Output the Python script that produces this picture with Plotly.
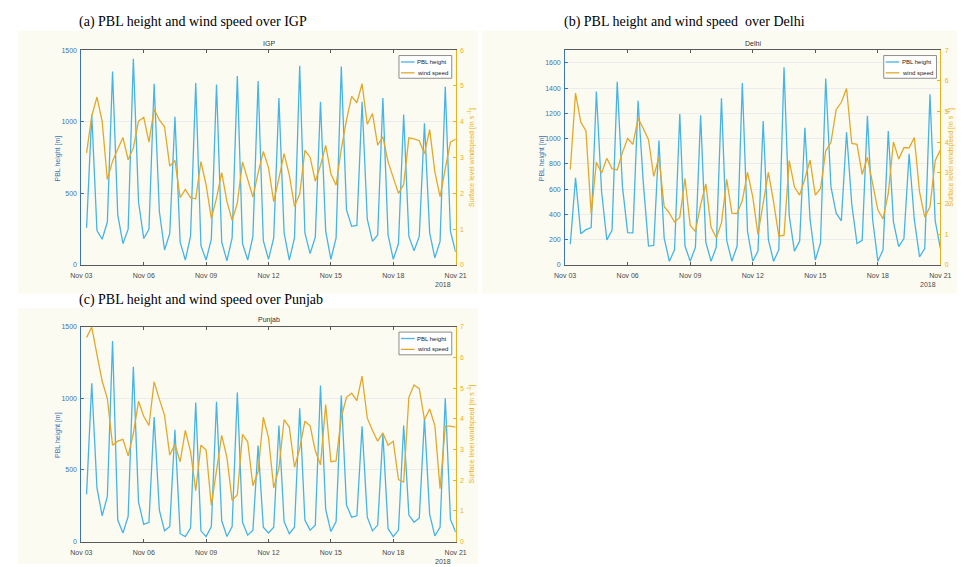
import pandas as pd
import plotly.graph_objects as go

# ---------------- data (6-hourly, 2018-11-03 06:00 .. 2018-11-21 00:00) ----------------
times = pd.date_range("2018-11-03 06:00", periods=72, freq="6h")

igp_pbl = [260, 1050, 240, 180, 300, 1350, 350, 150, 250, 1440, 440, 185,
           250, 1265, 375, 105, 220, 1035, 160, 35, 200, 1270, 135, 35,
           180, 1260, 160, 30, 190, 1320, 150, 35, 200, 1285, 170, 40,
           190, 1165, 225, 35, 190, 1390, 225, 80, 195, 1140, 236, 40,
           190, 1385, 385, 270, 277, 1140, 320, 165, 210, 1165, 210, 40,
           150, 1050, 200, 100, 200, 990, 225, 50, 165, 1245, 235, 90]
igp_wind = [3.13, 4.16, 4.69, 4.01, 2.39, 2.90, 3.24, 3.56, 2.94, 3.27, 4.02, 4.12,
            3.43, 4.35, 4.05, 3.86, 2.76, 2.92, 1.88, 2.11, 1.88, 1.85, 2.89, 2.23,
            1.30, 1.87, 2.58, 1.77, 1.25, 1.73, 2.88, 2.42, 1.90, 2.57, 3.17, 2.72,
            1.77, 2.42, 3.11, 2.51, 1.64, 1.98, 3.20, 3.01, 2.34, 2.78, 3.34, 2.55,
            2.23, 3.24, 4.05, 4.71, 4.53, 5.06, 3.93, 4.23, 3.35, 3.58, 2.88, 2.44,
            2.00, 2.25, 3.55, 3.52, 3.47, 3.11, 3.78, 2.60, 1.91, 2.69, 3.43, 3.52]

delhi_pbl = [164, 690, 247, 280, 297, 1372, 580, 199, 275, 1450, 620, 257,
             255, 1300, 650, 150, 155, 985, 215, 30, 120, 1195, 150, 30,
             140, 1185, 180, 30, 140, 1320, 195, 30, 150, 1440, 265, 30,
             110, 1140, 200, 30, 120, 1565, 390, 110, 190, 1085, 360, 40,
             175, 1475, 620, 410, 350, 1050, 480, 170, 195, 1180, 360, 30,
             120, 1060, 340, 145, 210, 880, 360, 65, 130, 1350, 350, 130]
delhi_wind = [3.11, 5.60, 4.66, 4.37, 1.66, 3.35, 3.00, 3.48, 3.14, 3.10, 3.67, 4.12,
              3.93, 4.78, 4.45, 4.08, 2.89, 3.51, 1.91, 1.69, 1.40, 1.55, 2.82, 1.29,
              1.09, 1.96, 2.64, 1.23, 0.89, 1.37, 2.79, 1.69, 1.68, 2.10, 3.02, 2.22,
              1.00, 2.06, 3.02, 2.06, 0.94, 0.97, 3.40, 2.54, 2.28, 2.81, 3.42, 2.28,
              2.49, 3.72, 3.99, 5.06, 5.30, 5.75, 3.96, 3.93, 2.95, 3.51, 2.65, 1.80,
              1.50, 2.33, 4.01, 3.45, 3.82, 3.82, 4.15, 2.38, 1.56, 1.90, 3.40, 3.75]

punjab_pbl = [330, 1105, 375, 180, 315, 1400, 150, 60, 175, 1220, 275, 120,
              135, 870, 220, 75, 105, 780, 55, 35, 95, 970, 75, 35,
              105, 975, 145, 35, 105, 1040, 135, 45, 80, 670, 100, 60,
              100, 810, 140, 55, 100, 930, 150, 80, 115, 1090, 225, 70,
              140, 1020, 255, 170, 180, 805, 170, 75, 115, 750, 90, 35,
              80, 810, 185, 135, 165, 860, 190, 40, 100, 1000, 155, 65]
punjab_wind = [6.65, 6.98, 6.09, 5.23, 4.66, 3.14, 3.27, 3.33, 2.79, 3.52, 4.57, 4.08,
               3.78, 5.20, 4.64, 4.11, 2.82, 3.17, 2.60, 3.62, 2.93, 1.66, 3.14, 2.98,
               1.18, 2.25, 3.46, 2.74, 1.34, 1.53, 3.49, 3.25, 1.82, 2.28, 4.05, 3.39,
               1.75, 2.39, 3.97, 3.73, 2.42, 3.03, 3.92, 3.77, 2.96, 2.50, 4.46, 2.60,
               2.63, 4.05, 4.70, 4.83, 4.59, 5.39, 4.02, 3.62, 3.27, 3.54, 3.14, 3.27,
               2.02, 1.94, 4.70, 5.10, 4.98, 3.97, 4.32, 3.78, 1.72, 3.76, 3.76, 3.73]

x_tickvals = ["2018-11-03", "2018-11-06", "2018-11-09", "2018-11-12",
              "2018-11-15", "2018-11-18", "2018-11-21"]
x_ticktext = ["Nov 03", "Nov 06", "Nov 09", "Nov 12", "Nov 15", "Nov 18", "Nov 21"]

panel_titles = ["(a) PBL height and wind speed over IGP",
                "(b) PBL height and wind speed  over Delhi",
                "(c) PBL height and wind speed over Punjab"]
plot_titles = ["IGP", "Delhi", "Punjab"]
series_names = ["PBL height", "wind speed"]
right_title = "Surface level windspeed [m s<sup> -1</sup>]"

# ---------------- styling ----------------
W, H = 968, 567
BLUE_LINE = "#45B4E6"
GOLD_LINE = "#E3A82B"
BLUE_AX = "#3E74B5"
GOLD_AX = "#EDB120"
GRAY_AX = "#5a5a5a"
CREAM = "#FBFBF1"
FONT = "Liberation Sans"


def px(x):
    return x / W


def py(y):
    return 1 - y / H


panels = [
    dict(pbl=igp_pbl, wind=igp_wind, left=72, right=455, top=46.7, bottom=264.3,
         ymax=1500, ytick=[0, 500, 1000, 1500], wmax=6, rtitle_x=471,
         bg=(7, 478, 27, 293), title_xy=(68, 18.5)),
    dict(pbl=delhi_pbl, wind=delhi_wind, left=567, right=951, top=46.7, bottom=264.3,
         ymax=1700, ytick=[0, 200, 400, 600, 800, 1000, 1200, 1400, 1600], wmax=7,
         rtitle_x=961, bg=(482, 968, 27, 293), title_xy=(564, 18.5)),
    dict(pbl=punjab_pbl, wind=punjab_wind, left=72, right=455, top=326.7, bottom=544.3,
         ymax=1500, ytick=[0, 500, 1000, 1500], wmax=7, rtitle_x=471,
         bg=(7, 478, 308, 567), title_xy=(68, 299.5)),
]

fig = go.Figure()
layout = dict(width=W, height=H, margin=dict(l=0, r=0, t=0, b=0),
              paper_bgcolor="white", plot_bgcolor="rgba(0,0,0,0)",
              showlegend=False, font=dict(family=FONT, size=7, color="#333"))
shapes = []
annotations = []

for i, p in enumerate(panels):
    xa = "x" if i == 0 else f"x{i + 1}"
    ya_l = f"y{2 * i + 1}" if i > 0 else "y"
    ya_r = f"y{2 * i + 2}"
    xkey = "xaxis" if i == 0 else f"xaxis{i + 1}"
    ykey_l = "yaxis" if i == 0 else f"yaxis{2 * i + 1}"
    ykey_r = f"yaxis{2 * i + 2}"

    fig.add_trace(go.Scatter(x=times, y=p["pbl"], mode="lines", name=series_names[0],
                             line=dict(color=BLUE_LINE, width=1.3), xaxis=xa, yaxis=ya_l))
    fig.add_trace(go.Scatter(x=times, y=p["wind"], mode="lines", name=series_names[1],
                             line=dict(color=GOLD_LINE, width=1.3), xaxis=xa, yaxis=ya_r))

    layout[xkey] = dict(domain=[px(p["left"]), px(p["right"])], anchor=ya_l, type="date",
                        range=["2018-11-03", "2018-11-21"], tickvals=x_tickvals,
                        ticktext=x_ticktext, ticks="inside", ticklen=3, tickcolor=GRAY_AX,
                        showline=True, linecolor=GRAY_AX, linewidth=1, mirror="ticks",
                        showgrid=False, zeroline=False, ticklabelstandoff=4,
                        tickfont=dict(family=FONT, size=7, color="#4a4a4a"))
    layout[ykey_l] = dict(domain=[py(p["bottom"]), py(p["top"])], anchor=xa,
                          range=[0, p["ymax"]], tickvals=p["ytick"], ticks="inside",
                          ticklen=3, tickcolor=BLUE_AX, showline=True, linecolor=BLUE_AX,
                          linewidth=1, showgrid=True, gridcolor="#ececec", gridwidth=1,
                          zeroline=False, ticklabelstandoff=2,
                          tickfont=dict(family=FONT, size=7, color=BLUE_AX))
    layout[ykey_r] = dict(overlaying=ya_l, anchor=xa, side="right",
                          range=[0, p["wmax"]], dtick=1, ticks="inside", ticklen=3,
                          tickcolor=GOLD_AX, showline=True, linecolor=GOLD_AX, linewidth=1,
                          showgrid=False, zeroline=False, ticklabelstandoff=2,
                          tickfont=dict(family=FONT, size=7, color=GOLD_AX))

    # panel background
    x0, x1, y0, y1 = p["bg"]
    shapes.append(dict(type="rect", xref="paper", yref="paper", x0=px(x0), x1=px(x1),
                       y0=py(y1), y1=py(y0), fillcolor=CREAM, line=dict(width=0),
                       layer="below"))

    # panel title (serif)
    tx, ty = p["title_xy"]
    annotations.append(dict(text=panel_titles[i], xref="paper", yref="paper", x=px(tx),
                            y=py(ty), xanchor="left", yanchor="middle", showarrow=False,
                            font=dict(family="Liberation Serif", size=14, color="black")))
    # plot title
    cx = (p["left"] + p["right"]) / 2
    annotations.append(dict(text=plot_titles[i], xref="paper", yref="paper", x=px(cx),
                            y=py(p["top"] - 6.5), xanchor="center", yanchor="middle",
                            showarrow=False, font=dict(family=FONT, size=7, color="#333")))
    # year label
    annotations.append(dict(text="2018", xref="paper", yref="paper", x=px(p["right"] - 13),
                            y=py(p["bottom"] + 20), xanchor="center", yanchor="middle",
                            showarrow=False, font=dict(family=FONT, size=7, color="#4a4a4a")))
    # axis titles
    cy = (p["top"] + p["bottom"]) / 2
    annotations.append(dict(text="PBL height [m]", xref="paper", yref="paper",
                            x=px(p["left"] - 24), y=py(cy + 1), textangle=-90,
                            xanchor="center", yanchor="middle", showarrow=False,
                            font=dict(family=FONT, size=7, color=BLUE_AX)))
    annotations.append(dict(text=right_title, xref="paper", yref="paper",
                            x=px(p["rtitle_x"]), y=py(cy), textangle=-90,
                            xanchor="center", yanchor="middle", showarrow=False,
                            font=dict(family=FONT, size=7, color=GOLD_AX)))

    # legend box (drawn manually to match the compact MATLAB legend)
    lx0, lx1 = p["right"] - 58, p["right"] - 4
    ly0, ly1 = p["top"] + 5.5, p["top"] + 28.5
    shapes.append(dict(type="rect", xref="paper", yref="paper", x0=px(lx0), x1=px(lx1),
                       y0=py(ly1), y1=py(ly0), fillcolor="white",
                       line=dict(color="#8c8c8c", width=1), layer="above"))
    for j, (nm, col) in enumerate(zip(series_names, [BLUE_LINE, GOLD_LINE])):
        yy = ly0 + 6.5 + j * 11
        shapes.append(dict(type="line", xref="paper", yref="paper", x0=px(lx0 + 2),
                           x1=px(lx0 + 16), y0=py(yy), y1=py(yy),
                           line=dict(color=col, width=1.3), layer="above"))
        annotations.append(dict(text=nm, xref="paper", yref="paper", x=px(lx0 + 16.5),
                                y=py(yy), xanchor="left", yanchor="middle", showarrow=False,
                                font=dict(family=FONT, size=6, color="#222")))

layout["shapes"] = shapes
layout["annotations"] = annotations
fig.update_layout(**layout)
fig.write_html("out.html")
